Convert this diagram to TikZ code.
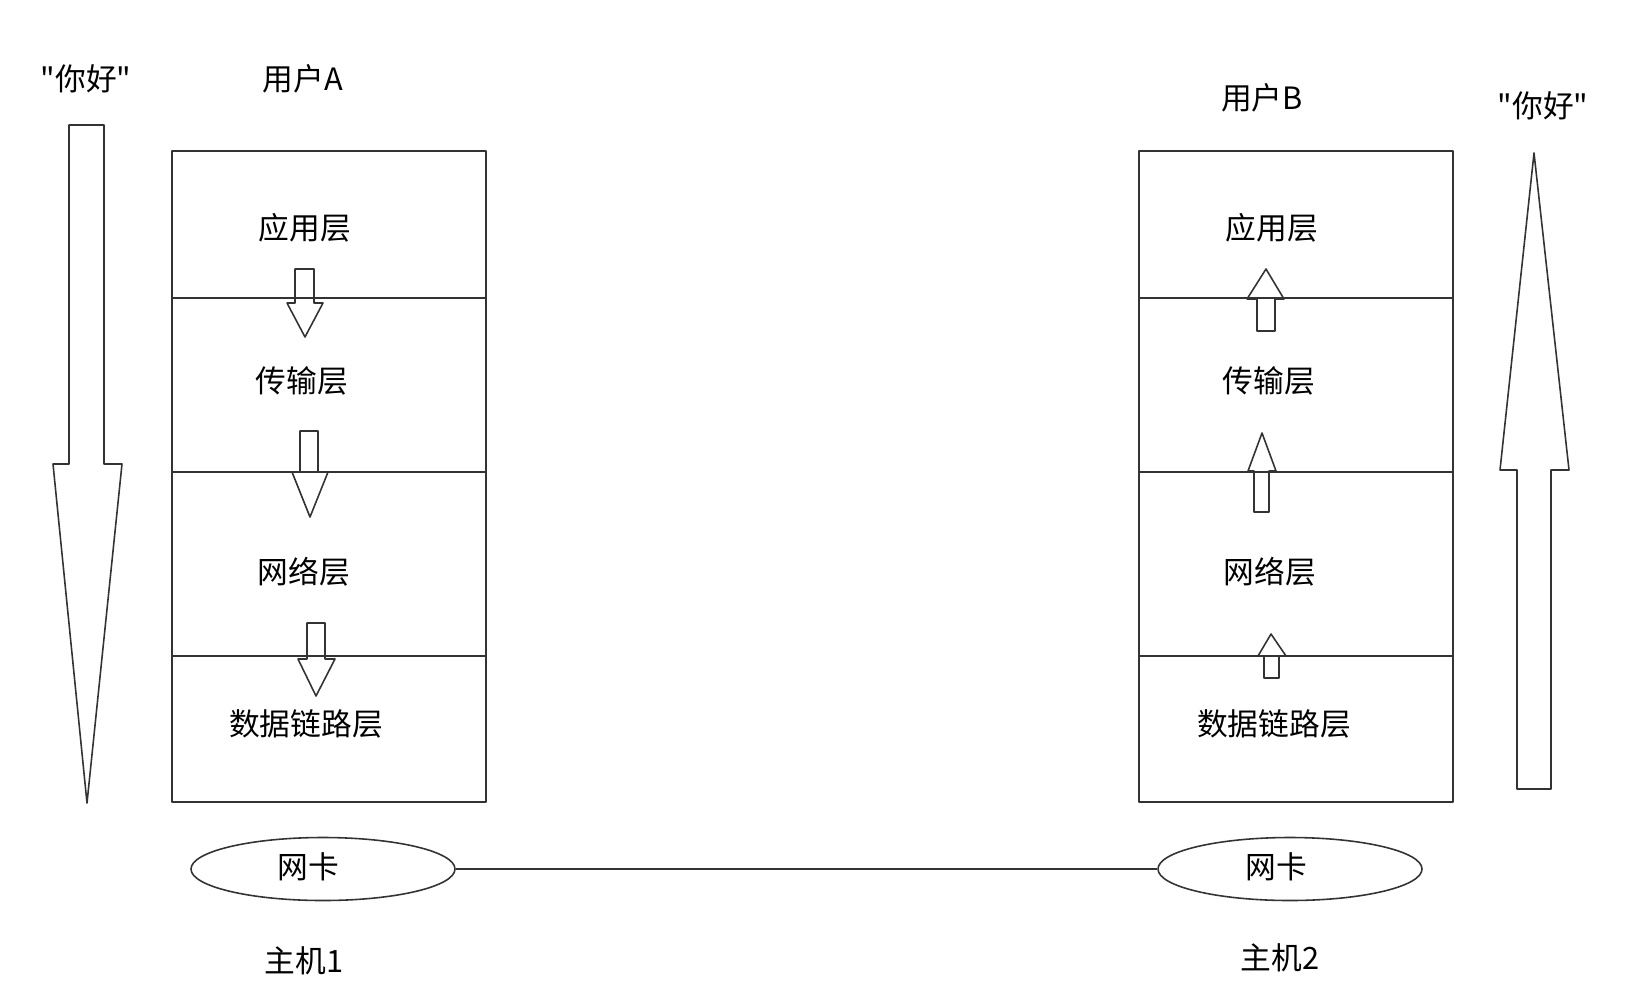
\documentclass[tikz,border=0pt]{standalone}
\usepackage{fontspec}
\setmainfont{Noto Sans CJK SC}[Ligatures=TeXOff]
\usetikzlibrary{shapes.geometric}
\definecolor{ink}{HTML}{333333}
\begin{document}
\begin{tikzpicture}[x=0.2mm,y=-0.2mm,line join=round,line width=0.9pt,draw=ink,text=black,
	font=\fontsize{17.5}{21}\selectfont,
	nic/.style={draw=ink,ellipse,minimum width=52.8mm,minimum height=12.6mm,inner sep=0pt}]
	\useasboundingbox (0,0) rectangle (1649,994);
	
	% host 1
	\node (helloA) at (86,79) {"你好"};
	\node (userA) at (303,79) {用户A};
	\draw (172,151) rectangle (486,802);
	\draw (172,298)--(486,298);
	\draw (172,472)--(486,472);
	\draw (172,656)--(486,656);
	\node (appA) at (305,228) {应用层};
	\node (transA) at (302,381) {传输层};
	\node (netA) at (304,572) {网络层};
	\node (linkA) at (306,724) {数据链路层};
	
	\draw (69,125)--(104,125)--(104,464)--(122,464)--(87,803)--(53,464)--(69,464)--cycle;
	\draw (295,269)--(314,269)--(314,303)--(323,303)--(305,337)--(287,303)--(295,303)--cycle;
	\draw (300,431)--(318,431)--(318,472)--(328,472)--(310,517)--(292,472)--(300,472)--cycle;
	\draw (307,623)--(325,623)--(325,659)--(335,659)--(316,696)--(298,659)--(307,659)--cycle;
	
	% host 2
	\node (helloB) at (1543,106) {"你好"};
	\node (userB) at (1262,98) {用户B};
	\draw (1139,151) rectangle (1453,802);
	\draw (1139,298)--(1453,298);
	\draw (1139,472)--(1453,472);
	\draw (1139,656)--(1453,656);
	\node (appB) at (1272,228) {应用层};
	\node (transB) at (1269,381) {传输层};
	\node (netB) at (1270,572) {网络层};
	\node (linkB) at (1274,724) {数据链路层};
	
	\draw (1517,789)--(1551,789)--(1551,470)--(1569,470)--(1534,153)--(1500,470)--(1517,470)--cycle;
	\draw (1257,331)--(1275,331)--(1275,299)--(1284,299)--(1266,269)--(1247,299)--(1257,299)--cycle;
	\draw (1254,512)--(1269,512)--(1269,471)--(1276,471)--(1262,433)--(1248,471)--(1254,471)--cycle;
	\draw (1264,678)--(1279,678)--(1279,656)--(1286,656)--(1271,634)--(1258,656)--(1264,656)--cycle;
	
	% network cards
	\node[nic] (nicA) at (323,869) {};
	\node[nic] (nicB) at (1290,869) {};
	\node (cardA) at (308,867) {网卡};
	\node (cardB) at (1276,867) {网卡};
	\draw (nicA)--(nicB);
	
	\node (hostA) at (304,961) {主机1};
	\node (hostB) at (1280,958) {主机2};
\end{tikzpicture}
\end{document}
